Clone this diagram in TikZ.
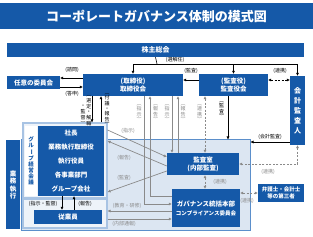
\documentclass[tikz,border=0pt]{standalone}
\usepackage{fontspec}
\setmainfont{Noto Sans CJK JP}
\usepackage{graphicx}
\usetikzlibrary{arrows.meta,positioning}
\definecolor{gvblue}{HTML}{1559A8}
\definecolor{gvpanel}{HTML}{DCE6F2}
\definecolor{gvedge}{HTML}{5B8FCB}
\definecolor{gvframe}{HTML}{A8C3E3}
\definecolor{gvpale}{HTML}{EEF3F9}
\definecolor{gvgray}{HTML}{8A8A8A}
\newcommand{\tatecol}[1]{\begin{tabular}[b]{@{}c@{}}#1\end{tabular}}
\newcommand{\tatebar}{\rotatebox[origin=c]{-90}{ー}}

\begin{document}
\begin{tikzpicture}[x=1pt,y=-1pt,>={Triangle[length=3pt,width=2.6pt]},
  box/.style={fill=gvblue,text=white,font=\bfseries\fontsize{6.5}{8}\selectfont,align=center,inner sep=0pt},
  panel/.style={draw=gvedge,fill=gvpanel,line width=1pt,inner sep=0pt},
  frame/.style={draw=gvframe,fill=gvpale,line width=1.2pt,inner sep=0pt},
  lbl/.style={font=\fontsize{5}{5.4}\selectfont,inner sep=0pt,align=center},
  glbl/.style={lbl,text=gvgray},
  arr/.style={->,black,line width=.6pt},
  garr/.style={->,gvgray,line width=.7pt},
  dline/.style={<->,gvgray,line width=.7pt,dash pattern=on 2pt off 1.5pt}]
\useasboundingbox (0,0) rectangle (313,237);
\fill[white] (0,0) rectangle (313,237);
% top rows
\node[box,minimum width=313,minimum height=26,font=\bfseries\fontsize{13}{15}\selectfont] (title) at (156.5,16) {コーポレートガバナンス体制の模式図};
\node[box,minimum width=297,minimum height=14,font=\bfseries\fontsize{7}{8}\selectfont] (gm) at (155.5,50) {株主総会};
\node[box,minimum width=53,minimum height=13] (cmte) at (33.5,83) {任意の委員会};
\node[box,minimum width=100,minimum height=22] (board) at (133,85) {(取締役)\\取締役会};
\node[box,minimum width=69,minimum height=22] (kab) at (233.5,85) {(監査役)\\監査役会};
\node[box,minimum width=15,minimum height=69,font=\bfseries\fontsize{7}{10}\selectfont] (acct) at (297.5,110.5) {会\\計\\監\\査\\人};
% execution side
\node[panel,minimum width=229,minimum height=91] (exec) at (135.5,185.5) {};
\node[frame,minimum width=84,minimum height=75] (grp) at (65,160.5) {};
\node[frame,minimum width=84,minimum height=29] (emp) at (65,213.5) {};
\node[fill=white,minimum width=12,minimum height=70,inner sep=0pt,align=center,text=gvblue,
  font=\bfseries\fontsize{5.5}{5.9}\selectfont] (kaigi) at (31,161) {グ\\ル\\\tatebar\\プ\\経\\営\\会\\議};
\node[box,minimum width=66,minimum height=70,font=\bfseries\fontsize{6.5}{13.8}\selectfont] (pres) at (71,161)
  {社長\\業務執行取締役\\執行役員\\各事業部門\\グループ会社};
\node[box,minimum width=68,minimum height=14] (staff) at (68,217) {従業員};
\node[box,minimum width=14,minimum height=89,font=\bfseries\fontsize{6.5}{7.5}\selectfont] (gyomu) at (13,185) {業\\務\\執\\行};
\node[box,minimum width=72,minimum height=22] (audit) at (203,164) {監査室\\(内部監査)};
\node[box,minimum width=68,minimum height=38,font=\bfseries\fontsize{6.5}{9}\selectfont] (gov) at (206,208)
  {ガバナンス統括本部\\{\fontsize{5.5}{7}\selectfont コンプライアンス委員会}};
\node[box,minimum width=46,minimum height=18,font=\bfseries\fontsize{5.5}{7}\selectfont] (third) at (281,193) {弁護士・会計士\\等の第三者};
% appointment
\coordinate (sj) at (157,64);
\draw[line width=.6pt] (gm.south) -- (sj);
\draw[arr] (sj) -| (board.north);
\draw[arr] (sj) -| (kab.north);
\draw[arr] (sj) -| (acct.north);
\node[lbl] (l-sj) at (175,60) {(選解任)};
% committee
\draw[arr] ([yshift=7pt]board.west) -- ([yshift=5pt]cmte.east);
\draw[arr] ([yshift=-4pt]cmte.east) -- ([yshift=-2pt]board.west);
\node[lbl] (l-ask) at (72,70) {(諮問)};
\node[lbl] (l-ans) at (72,94) {(答申)};
% auditors
\draw[arr] ([yshift=5pt]kab.west) -- ([yshift=5pt]board.east);
\node[lbl] (l-kab) at (191,71) {(監査)};
\draw[<->,black,line width=.6pt,dash pattern=on 2pt off 1.5pt] ([yshift=5pt]kab.east) -- (acct.west |- 0,80);
\node[lbl] (l-acct) at (280,71) {(連携)};
% board to execution
\draw[arr] (board.south -| 92,0) -- (grp.north -| 92,0);
\draw[arr] (grp.north -| 101,0) -- (board.south -| 101,0);
\node[lbl] (l-sel) at (86,110) {\tatecol{・\\監\\督\\︶}\hspace{.6pt}\tatecol{︵\\選\\定\\・\\解\\職}};
\node[lbl] (l-rep) at (107,110) {︵\\付\\議\\・\\報\\告\\︶};
\draw[garr] (board.south -| 144,0) |- ([yshift=4pt]gov.west);
\draw[garr] ([yshift=12pt]gov.west) -| (board.south -| 150,0);
\draw[garr] (board.south -| 172,0) -- (audit.north -| 172,0);
\draw[garr] (audit.north -| 178,0) -- (board.south -| 178,0);
\node[glbl] (l-ins1) at (139,113) {︵\\指\\示\\︶};
\node[glbl] (l-rep1) at (155.5,113) {︵\\報\\告\\︶};
\node[glbl] (l-ins2) at (167,113) {︵\\指\\示\\︶};
\node[glbl] (l-rep2) at (183,113) {︵\\報\\告\\︶};
\draw[dline] (kab.south -| 205,0) -- (audit.north -| 205,0);
\node[glbl] (l-lnk1) at (199.5,113) {︵\\連\\携\\︶};
\draw[arr] (kab.south -| 228,0) -- (exec.north -| 228,0);
\node[lbl] (l-kab2) at (221.5,110) {︵\\監\\査\\︶};
\draw[arr] (acct.west |- 0,142) -- (exec.east |- 0,142);
\node[lbl] (l-acc2) at (270,137) {(会計監査)};
\draw[dline] (acct.south) |- (audit.east);
\node[glbl] (l-lnk2) at (268,172) {(連携)};
% inside execution
\draw[dline] (audit.south -| 205,0) -- (gov.north -| 205,0);
\node[glbl] (l-lnk3) at (220,182) {(連携)};
\draw[dline] (gov.east |- third.west) -- (third.west);
\node[glbl] (l-lnk4) at (247,201) {(連携)};
\draw[garr] (grp.east |- 0,130) -- (audit.west |- 0,157);
\draw[garr] (audit.west |- 0,166) -- (grp.east |- 0,141);
\draw[garr] (audit.west |- 0,171) -- (grp.east |- 0,192);
\draw[garr] (gov.west |- 0,211) -- (emp.east |- 0,211);
\draw[garr] (emp.east |- 0,219) -- (gov.west |- 0,219);
\node[glbl] (l-ins3) at (128,131) {(指示)};
\node[glbl] (l-rep3) at (124,158) {(報告)};
\node[glbl] (l-aud3) at (124,178) {(監査)};
\node[glbl] (l-edu) at (127,206) {(教育・研修)};
\node[glbl] (l-whs) at (124,224) {(内部通報)};
\draw[arr] (pres.south -| 62,0) -- (staff.north -| 62,0);
\draw[arr] (staff.north -| 74,0) -- (pres.south -| 74,0);
\node[lbl] (l-sup) at (43,204) {(指示・監督)};
\node[lbl] (l-rep4) at (85,204) {(報告)};
\end{tikzpicture}
\end{document}
